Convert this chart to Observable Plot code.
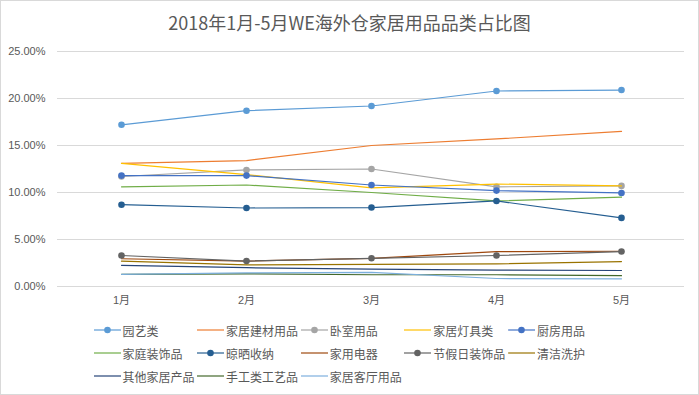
<!DOCTYPE html>
<html>
<head>
<meta charset="utf-8">
<script src="https://cdn.jsdelivr.net/npm/d3@7"></script>
<script src="https://cdn.jsdelivr.net/npm/@observablehq/plot@0.6"></script>
<style>
  body { margin: 0; background: #fff; }
  #wrap { position: relative; width: 699px; height: 395px; overflow: hidden; background:#fff; }
  #border { position: absolute; left: 0; top: 0; width: 697px; height: 393px; border: 1px solid #d9d9d9; }
  #title { position: absolute; left: 0; width: 699px; top: 10px; text-align: center;
           font-family: "Noto Sans CJK SC", sans-serif; font-size: 18px; color: #595959; line-height: 24px; }
  #plot { position: absolute; left: 0; top: 0; }
  .lg { position: absolute; height: 20px; display: flex; align-items: center; white-space: nowrap;
        font-family: "Noto Sans CJK SC", sans-serif; font-size: 12px; color: #595959; }
  .lg svg { margin-right: 2px; }
</style>
</head>
<body>
<div id="wrap">
  <div id="border"></div>
  <div id="plot"></div>
  <div id="title">2018年1月-5月WE海外仓家居用品品类占比图</div>
  <div id="legend"></div>
</div>
<script>
const months = ["1月", "2月", "3月", "4月", "5月"];
const seriesNames = ["园艺类", "家居建材用品", "卧室用品", "家居灯具类", "厨房用品",
  "家庭装饰品", "晾晒收纳", "家用电器", "节假日装饰品", "清洁洗护",
  "其他家居产品", "手工类工艺品", "家居客厅用品"];
const seriesColors = ["#5B9BD5", "#ED7D31", "#A5A5A5", "#FFC000", "#4472C4",
  "#70AD47", "#255E91", "#9E480E", "#636363", "#997300",
  "#264478", "#43682B", "#7CAFDD"];
const withMarkers = ["园艺类", "卧室用品", "厨房用品", "晾晒收纳", "节假日装饰品"];
const yTicks = [0, 5, 10, 15, 20, 25];

// values in percent, per series, Jan..May
const yuanyi     = [17.2, 18.7, 19.2, 20.8, 20.9];
const jiancai    = [13.1, 13.4, 15.0, 15.7, 16.5];
const woshi      = [11.7, 12.4, 12.5, 10.6, 10.7];
const dengju     = [13.1, 11.9, 10.5, 10.9, 10.7];
const chufang    = [11.8, 11.8, 10.8, 10.2, 9.95];
const zhuangshi  = [10.6, 10.8, 10.0, 9.1, 9.5];
const liangshai  = [8.7, 8.35, 8.4, 9.1, 7.3];
const dianqi     = [2.95, 2.7, 3.0, 3.7, 3.75];
const jiejiari   = [3.3, 2.7, 3.0, 3.3, 3.72];
const qingjie    = [2.7, 2.3, 2.35, 2.4, 2.65];
const qita       = [2.25, 2.0, 1.85, 1.75, 1.7];
const shougong   = [1.3, 1.35, 1.25, 1.25, 1.15];
const keting     = [1.3, 1.45, 1.5, 0.85, 0.82];

const allValues = [yuanyi, jiancai, woshi, dengju, chufang, zhuangshi, liangshai,
  dianqi, jiejiari, qingjie, qita, shougong, keting];

const data = seriesNames.flatMap((s, i) =>
  months.map((m, j) => ({series: s, month: m, value: allValues[i][j]})));

const marks = [
  Plot.ruleY(yTicks, {stroke: "#d9d9d9", strokeWidth: 1}),
  Plot.axisY({ticks: yTicks, tickFormat: d => d.toFixed(2) + "%", tickSize: 0, tickPadding: 12,
              fontSize: 11}),
  Plot.axisX({tickSize: 0, tickPadding: 10, fontSize: 11})
];
seriesNames.forEach((s) => {
  const d = data.filter(r => r.series === s);
  marks.push(Plot.line(d, {x: "month", y: "value", stroke: "series", strokeWidth: 1.2}));
  if (withMarkers.includes(s)) {
    marks.push(Plot.dot(d, {x: "month", y: "value", fill: "series", r: 3.3}));
  }
});

const chart = Plot.plot({
  width: 699,
  height: 310,
  marginTop: 51,
  marginBottom: 24,
  marginLeft: 57,
  marginRight: 15,
  style: {fontFamily: "'Liberation Sans', 'Noto Sans CJK SC', sans-serif", fontSize: "11px", color: "#595959", background: "transparent"},
  x: {type: "point", domain: months, padding: 0.5, label: null},
  y: {domain: [0, 25], label: null},
  color: {domain: seriesNames, range: seriesColors},
  marks
});
document.getElementById("plot").appendChild(chart);

// legend
const legend = document.getElementById("legend");
seriesNames.forEach((s, i) => {
  const row = Math.floor(i / 5), col = i % 5;
  const el = document.createElement("div");
  el.className = "lg";
  el.style.left = (93.5 + col * 103.6) + "px";
  el.style.top = (320 + row * 23) + "px";
  const c = seriesColors[i];
  const dot = withMarkers.includes(s) ? `<circle cx="13.5" cy="10" r="3.3" fill="${c}"/>` : "";
  el.innerHTML = `<svg width="27" height="20"><line x1="0" x2="27" y1="10" y2="10" stroke="${c}" stroke-width="1.2"/>${dot}</svg><span>${s}</span>`;
  legend.appendChild(el);
});
</script>
</body>
</html>
